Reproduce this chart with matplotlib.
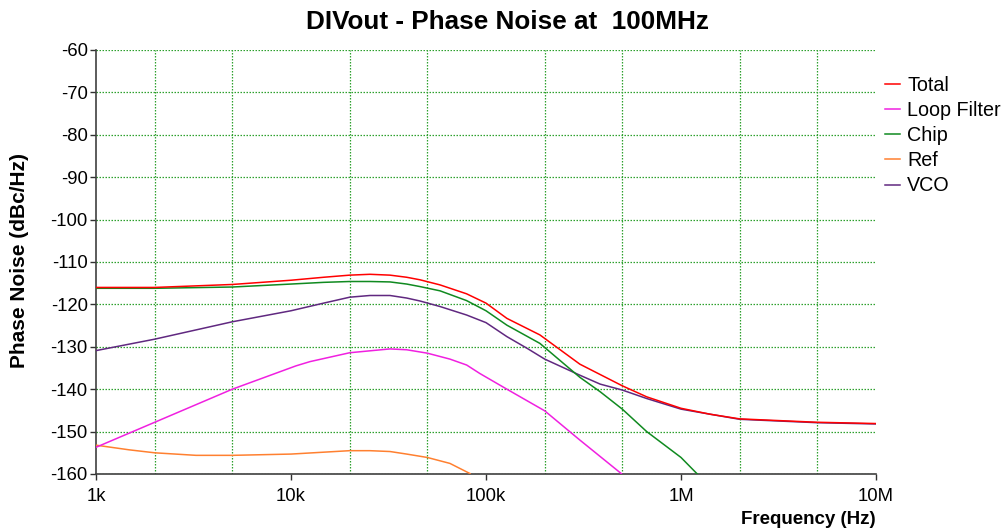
import matplotlib
matplotlib.use("Agg")
import matplotlib.pyplot as plt
from matplotlib.ticker import FixedLocator, NullFormatter

plt.rcParams["font.family"] = ["Liberation Sans", "DejaVu Sans"]

# values (frequency in Hz, noise in dBc/Hz)
total_f = [1e3, 2e3, 5e3, 1e4, 1.47e4, 2e4, 2.54e4, 3.22e4, 3.92e4, 4.59e4, 5.81e4, 7.95e4,
           1e5, 1.28e5, 1.89e5, 3.03e5, 5e5, 6.67e5, 1e6, 1.41e6, 2e6, 5e6, 1e7]
total_db = [-116.0, -116.0, -115.3, -114.3, -113.6, -113.1, -112.9, -113.1, -113.6, -114.2,
            -115.4, -117.5, -119.7, -123.3, -127.2, -134.1, -139.2, -141.8, -144.5, -145.9,
            -147.0, -147.8, -148.1]

chip_f = [1e3, 2e3, 5e3, 1e4, 1.47e4, 2e4, 2.54e4, 3.22e4, 3.92e4, 4.59e4, 5.81e4, 7.95e4,
          1e5, 1.28e5, 1.89e5, 3.03e5, 3.85e5, 5e5, 6.67e5, 1e6, 1.2e6, 1.25e6]
chip_db = [-116.2, -116.2, -115.9, -115.2, -114.8, -114.6, -114.6, -114.7, -115.2, -115.8,
           -116.8, -119.1, -121.5, -124.9, -129.2, -137.2, -140.6, -144.7, -150.0, -156.1,
           -159.8, -160.5]

vco_f = [1e3, 2e3, 5e3, 1e4, 1.47e4, 2e4, 2.54e4, 3.22e4, 3.92e4, 4.59e4, 5.81e4, 7.95e4,
         1e5, 1.28e5, 1.63e5, 2e5, 3.03e5, 3.85e5, 5e5, 6.67e5, 1e6, 1.41e6, 2e6, 5e6, 1e7]
vco_db = [-130.9, -128.2, -124.1, -121.5, -119.7, -118.3, -117.9, -117.9, -118.5, -119.2,
          -120.5, -122.5, -124.3, -127.6, -130.4, -132.9, -136.7, -138.8, -140.2, -142.2,
          -144.7, -145.9, -147.1, -147.9, -148.2]

loop_f = [1e3, 2e3, 5e3, 1.06e4, 1.25e4, 2e4, 3.22e4, 3.92e4, 5e4, 6.53e4, 7.96e4, 9.3e4,
          1.28e5, 2e5, 3.03e5, 4.97e5]
loop_db = [-153.7, -147.8, -140.0, -134.5, -133.5, -131.4, -130.5, -130.7, -131.5, -132.9,
           -134.3, -136.3, -140.0, -145.1, -152.0, -160.0]

ref_f = [1e3, 1.48e3, 2e3, 3.26e3, 5e3, 1e4, 2e4, 2.54e4, 3.22e4, 3.92e4, 5e4, 6.53e4, 8.28e4]
ref_db = [-153.2, -154.3, -155.0, -155.6, -155.6, -155.3, -154.5, -154.5, -154.7, -155.3,
          -156.1, -157.5, -159.9]

series = [
    ("Total", total_f, total_db, "#FF0000"),
    ("Loop Filter", loop_f, loop_db, "#F020E0"),
    ("Chip", chip_f, chip_db, "#108A20"),
    ("Ref", ref_f, ref_db, "#FF8030"),
    ("VCO", vco_f, vco_db, "#602880"),
]

major_x = [1e3, 1e4, 1e5, 1e6, 1e7]
major_x_labels = ["1k", "10k", "100k", "1M", "10M"]
grid_x = [1e3, 2e3, 5e3, 1e4, 2e4, 5e4, 1e5, 2e5, 5e5, 1e6, 2e6, 5e6, 1e7]
y_ticks = list(range(-160, -50, 10))

W, H = 1004, 532
fig = plt.figure(figsize=(W / 100, H / 100), dpi=100)
ax = fig.add_axes([96 / W, 1 - 474 / H, (876 - 96) / W, (474 - 50) / H])

# plotted in reverse so Total sits on top
handles = {}
for name, f, db, color in reversed(series):
    (ln,) = ax.plot(f, db, color=color, linewidth=1.1, label=name, zorder=3)
    handles[name] = ln

ax.set_xscale("log")
ax.set_xlim(1e3, 1e7)
ax.set_ylim(-160, -60)

ax.xaxis.set_major_locator(FixedLocator(major_x))
ax.set_xticklabels(major_x_labels)
ax.xaxis.set_minor_locator(FixedLocator(grid_x))
ax.xaxis.set_minor_formatter(NullFormatter())
ax.set_yticks(y_ticks)
ax.set_yticklabels([str(v) for v in y_ticks])

ax.tick_params(axis="both", which="major", direction="out", length=4, width=1,
               labelsize=13.3, color="#303030")
ax.tick_params(axis="x", which="minor", length=0)
ax.tick_params(axis="x", which="major", pad=6)
ax.tick_params(axis="y", which="major", pad=2)

gc = "#2EA02E"
ax.grid(True, which="minor", axis="x", color=gc, linestyle=(0, (1.2, 1.2)), linewidth=0.9, zorder=1)
ax.grid(True, which="major", axis="y", color=gc, linestyle=(0, (1.2, 1.2)), linewidth=0.9, zorder=1)
ax.set_axisbelow(True)

for side in ("top", "right"):
    ax.spines[side].set_visible(False)
for side in ("left", "bottom"):
    ax.spines[side].set_color("#404040")
    ax.spines[side].set_linewidth(1.2)

fig.text(508 / W, 1 - 22 / H, "DIVout - Phase Noise at  100MHz", ha="center", va="center",
         fontsize=18.8, fontweight="bold")
fig.text(876 / W, 1 - 520 / H, "Frequency (Hz)", ha="right", va="center",
         fontsize=13.5, fontweight="bold")
fig.text(20 / W, 1 - 261 / H, "Phase Noise (dBc/Hz)", ha="center", va="center",
         rotation=90, fontsize=15, fontweight="bold")

order = [s[0] for s in series]
fig.legend([handles[n] for n in order], order, loc="upper left",
           bbox_to_anchor=(885 / W, 1 - 76 / H), frameon=False, fontsize=14.2,
           handlelength=0.75, handletextpad=0.38, labelspacing=0.31,
           borderpad=0, borderaxespad=0)

fig.savefig("out.png", dpi=100)
